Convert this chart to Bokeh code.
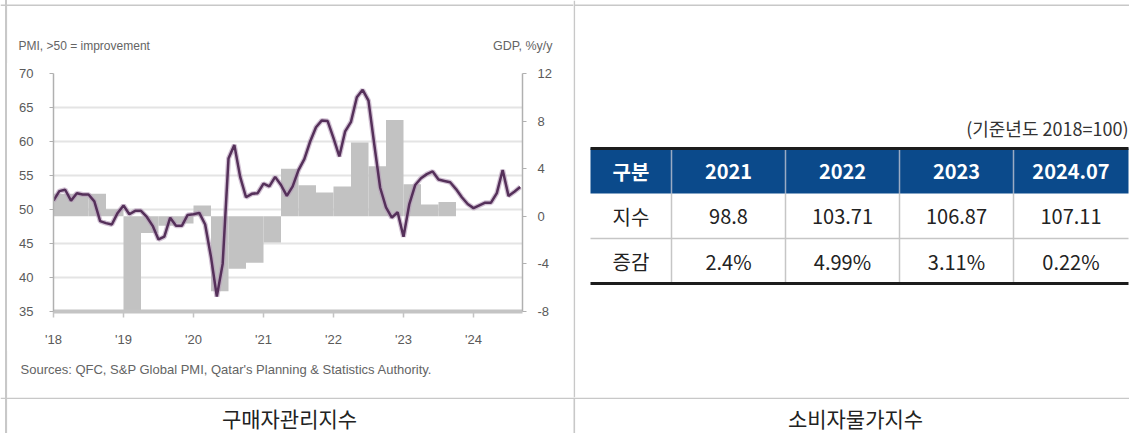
from bokeh.plotting import figure
from bokeh.models import Range1d, LinearAxis, FixedTicker
from bokeh.layouts import row, column
from bokeh.embed import file_html
from bokeh.resources import INLINE
from bokeh.core.properties import value

# ---------------- data ----------------
# Qatar manufacturing PMI, monthly from Jan 2018
pmi = [51.3, 52.7, 52.9, 51.3, 52.4, 52.2, 52.2, 51.2, 48.3, 48.0, 47.8, 49.5,
       50.6, 49.3, 49.8, 49.8, 48.9, 47.6, 45.6, 46.0, 48.8, 47.6, 47.6, 49.2,
       49.3, 49.5, 47.8, 43.0, 37.2, 42.0, 57.5, 59.5, 54.8, 51.8, 52.3, 52.4,
       53.8, 53.4, 54.8, 53.6, 52.0, 53.4, 55.8, 57.4, 60.0, 62.1, 63.1, 63.0,
       60.5, 57.8, 61.5, 62.9, 66.5, 67.6, 66.0, 59.5, 53.2, 50.3, 48.8, 49.6,
       46.0, 50.8, 53.6, 54.6, 55.2, 55.6, 54.4, 54.2, 54.0, 53.0, 51.8, 50.8,
       50.2, 50.6, 51.0, 51.0, 52.4, 55.8, 52.0, 52.6, 53.3]
pmi_start_year = 2018
# Real GDP growth, % y/y, quarterly from Q1 2018
gdp = [1.9, 1.9, 1.9, 0.6,
       -8.0, -1.4, -0.8, -0.6,
       0.9, -6.3, -4.4, -3.9,
       -2.2, 4.0, 2.6, 2.0,
       2.5, 6.2, 4.2, 8.1,
       2.7, 1.0, 1.2]
year_ticks = [2018, 2019, 2020, 2021, 2022, 2023, 2024]
year_labels = ["'18", "'19", "'20", "'21", "'22", "'23", "'24"]
pmi_ticks = [35, 40, 45, 50, 55, 60, 65, 70]
gdp_ticks = [-8, -4, 0, 4, 8, 12]
gdp_labels = ["-8", "-4", "0", "4", "8", "12"]
left_title = "PMI, >50 = improvement"
right_title = "GDP, %y/y"
source_note = "Sources: QFC, S&P Global PMI, Qatar's Planning & Statistics Authority."

# CPI table
table_note = "(기준년도 2018=100)"
table_header = ["구분", "2021", "2022", "2023", "2024.07"]
row_names = ["지수", "증감"]
cpi_index = ["98.8", "103.71", "106.87", "107.11"]
cpi_change = ["2.4%", "4.99%", "3.11%", "0.22%"]
captions = ["구매자관리지수", "소비자물가지수"]

CH_FONT = "Liberation Sans"
TXT = "#646464"
KR = "Noto Sans CJK KR"
RULE = "#c8c8c8"


def bare(fig):
    fig.grid.visible = False
    fig.outline_line_color = None
    fig.background_fill_color = None
    fig.border_fill_color = None
    if "frame_align" in fig.properties():
        fig.frame_align = False
    return fig


def canvas(w, h, x0, y0):
    # a blank figure whose ranges are page pixels (y downward)
    f = figure(width=w, height=h, x_range=Range1d(x0, x0 + w), y_range=Range1d(y0 + h, y0),
               output_backend="svg", toolbar_location=None, min_border=0,
               x_axis_location=None, y_axis_location=None)
    return bare(f)


# ---------------- chart header / footer ----------------
head = canvas(573, 63, 0, 0)
head.segment(x0=[0], y0=[4.8], x1=[573], y1=[4.8], line_color=RULE, line_width=1.6)
head.segment(x0=[5.8], y0=[4], x1=[5.8], y1=[63], line_color=RULE, line_width=1.6)
head.text(x=[18], y=[45], text=[left_title], text_font=value(CH_FONT), text_font_size="12px",
          text_color=TXT, text_baseline="middle")
head.text(x=[552], y=[45], text=[right_title], text_font=value(CH_FONT), text_font_size="12.5px",
          text_color=TXT, text_baseline="middle", text_align="right")

foot = canvas(573, 47, 0, 350)
foot.segment(x0=[5.8], y0=[350], x1=[5.8], y1=[397], line_color=RULE, line_width=1.6)
foot.text(x=[20], y=[368.5], text=[source_note], text_font=value(CH_FONT), text_font_size="13px",
          text_color=TXT, text_baseline="middle")

# ---------------- chart ----------------
p = figure(width=573, height=287, x_range=Range1d(2018, 2024.7), y_range=Range1d(35, 70),
           output_backend="svg", toolbar_location=None,
           min_border_left=53, min_border_right=51, min_border_top=10, min_border_bottom=39)
p.outline_line_color = None
p.background_fill_color = "white"
p.border_fill_color = None
if "frame_align" in p.properties():
    p.frame_align = False
p.extra_y_ranges = {"gdp": Range1d(-8, 12)}

qx = [pmi_start_year + i / 4 for i in range(len(gdp))]
p.quad(left=qx, right=[x + 0.25 for x in qx], bottom=0, top=gdp, y_range_name="gdp",
       fill_color="#c2c2c2", line_color=None)

mx = [pmi_start_year + i / 12 for i in range(len(pmi))]
p.line(mx, pmi, line_color="#b49ab7", line_width=5, line_alpha=0.6)
p.line(mx, pmi, line_color="#55305a", line_width=2.5)

p.ygrid.ticker = FixedTicker(ticks=pmi_ticks)
p.ygrid.grid_line_color = "#e4e4e4"
p.ygrid.grid_line_width = 2
p.xgrid.grid_line_color = None

p.yaxis.ticker = FixedTicker(ticks=pmi_ticks)
p.xaxis.ticker = FixedTicker(ticks=year_ticks)
p.xaxis.major_label_overrides = {t: l for t, l in zip(year_ticks, year_labels)}

rax = LinearAxis(y_range_name="gdp", ticker=FixedTicker(ticks=gdp_ticks))
rax.major_label_overrides = {t: l for t, l in zip(gdp_ticks, gdp_labels)}
p.add_layout(rax, "right")

for ax, so in [(p.yaxis[0], 16), (rax, 11)]:
    ax.axis_line_color = "#b0b0b0"
    ax.axis_line_width = 1.5
    ax.major_tick_line_color = "#b0b0b0"
    ax.major_tick_out = 4
    ax.major_tick_in = 0
    ax.minor_tick_line_color = None
    ax.major_label_standoff = so
    ax.major_label_text_font = CH_FONT
    ax.major_label_text_font_size = "13px"
    ax.major_label_text_color = "#5a5a5a"

xa = p.xaxis[0]
xa.axis_line_color = "#c4c4c4"
xa.axis_line_width = 4
xa.major_tick_line_color = "#c4c4c4"
xa.major_tick_out = 6
xa.major_tick_in = 0
xa.major_tick_line_width = 1.5
xa.minor_tick_line_color = None
xa.major_label_standoff = 14
xa.major_label_text_font = CH_FONT
xa.major_label_text_font_size = "13px"
xa.major_label_text_color = "#5a5a5a"

left_col = column(head, p, foot, spacing=0)

# ---------------- table ----------------
t = canvas(556, 397, 573, 0)
col_edges = [590, 671, 785, 899, 1013, 1128]
row_edges = [148, 193, 238, 283]
cx = [(a + b) / 2 for a, b in zip(col_edges[:-1], col_edges[1:])]
ry = [(a + b) / 2 for a, b in zip(row_edges[:-1], row_edges[1:])]

t.segment(x0=[573.8], y0=[0], x1=[573.8], y1=[397], line_color=RULE, line_width=1.6)
t.segment(x0=[573], y0=[4.8], x1=[1129], y1=[4.8], line_color=RULE, line_width=1.6)

t.quad(left=col_edges[:-1], right=col_edges[1:], top=row_edges[0], bottom=row_edges[1],
       fill_color="#0b4a8b", line_color=None)
inner = col_edges[1:-1]
t.segment(x0=inner, y0=[row_edges[0]] * 4, x1=inner, y1=[row_edges[1]] * 4,
          line_color="#9aabc4", line_width=1.5)
t.segment(x0=inner, y0=[row_edges[1]] * 4, x1=inner, y1=[row_edges[3]] * 4,
          line_color="#c6c6c6", line_width=1.5)
t.segment(x0=[col_edges[0]], y0=[row_edges[2]], x1=[col_edges[-1]], y1=[row_edges[2]],
          line_color="#c6c6c6", line_width=1.5)
t.segment(x0=[col_edges[0]] * 2, y0=[row_edges[0], row_edges[3]],
          x1=[col_edges[-1]] * 2, y1=[row_edges[0], row_edges[3]],
          line_color="#1c1c1c", line_width=3)

t.text(x=cx, y=[ry[0]] * 5, text=table_header, text_font=value(KR),
       text_font_size="20px", text_font_style="bold", text_color="white",
       text_align="center", text_baseline="middle")
body_x = cx * 2
body_y = [ry[1]] * 5 + [ry[2]] * 5
body_t = [row_names[0]] + cpi_index + [row_names[1]] + cpi_change
t.text(x=body_x, y=body_y, text=body_t, text_font=value(KR), text_font_size="20px",
       text_color="#222222", text_align="center", text_baseline="middle")
t.text(x=[col_edges[-1]], y=[127], text=[table_note], text_font=value(KR),
       text_font_size="18px", text_color="#333333", text_align="right",
       text_baseline="middle")

# ---------------- caption row ----------------
b = canvas(1129, 36, 0, 397)
b.segment(x0=[0], y0=[397.8], x1=[1129], y1=[397.8], line_color=RULE, line_width=1.6)
b.segment(x0=[573.8, 5.8], y0=[397, 397], x1=[573.8, 5.8], y1=[433, 433],
          line_color=RULE, line_width=1.6)
cell_edges = [5, 573, 1137]
b.text(x=[(cell_edges[0] + cell_edges[1]) / 2, (cell_edges[1] + cell_edges[2]) / 2],
       y=[417, 417], text=captions, text_font=value(KR), text_font_size="21px",
       text_color="#222222", text_align="center", text_baseline="middle")

layout = column(row(left_col, t, spacing=0), b, spacing=0,
                styles={"background-image": "linear-gradient(#c8c8c8,#c8c8c8)",
                        "background-position": "5px 0px",
                        "background-size": "2px 100%",
                        "background-repeat": "no-repeat"})

open("out.html", "w").write(file_html(layout, INLINE))
